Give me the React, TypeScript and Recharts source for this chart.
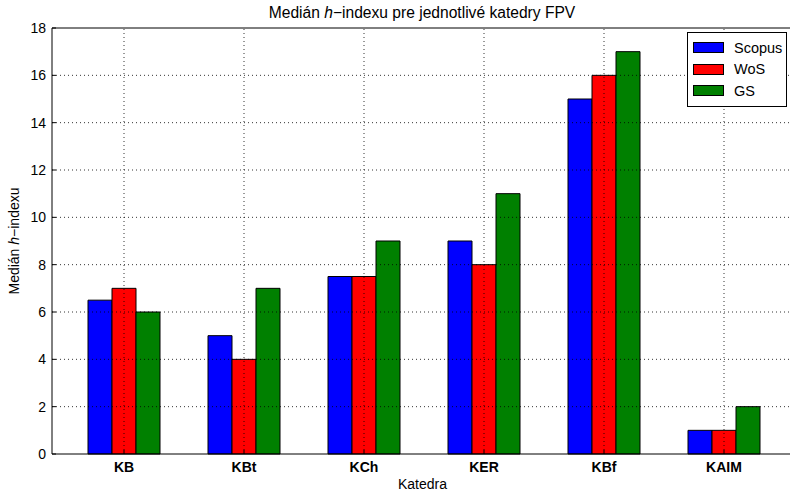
import { BarChart, Bar, XAxis, YAxis, ReferenceLine } from 'recharts';

// Median h-index per department
const categories = ['KB', 'KBt', 'KCh', 'KER', 'KBf', 'KAIM'];
const scopus = [6.5, 5, 7.5, 9, 15, 1];
const wos = [7, 4, 7.5, 8, 16, 1];
const gs = [6, 7, 9, 11, 17, 2];
const yTicks = [0, 2, 4, 6, 8, 10, 12, 14, 16, 18];

const series = [
  { key: 'scopus', name: 'Scopus', color: '#0000ff' },
  { key: 'wos', name: 'WoS', color: '#ff0000' },
  { key: 'gs', name: 'GS', color: '#008000' },
];

const data = categories.map((name, i) => ({
  name,
  scopus: scopus[i],
  wos: wos[i],
  gs: gs[i],
}));

const FONT = '"Liberation Sans", Arial, sans-serif';

const YLabel = (props: any) => {
  const vb = props.viewBox || { x: 0, y: 0, width: 0, height: 0 };
  const cx = 14;
  const cy = vb.y + vb.height / 2;
  return (
    <text
      x={cx}
      y={cy}
      transform={`rotate(-90 ${cx} ${cy})`}
      textAnchor="middle"
      dominantBaseline="central"
      fontSize={14}
      fontFamily={FONT}
      fill="#000"
    >
      Medián <tspan fontStyle="italic">h</tspan>−indexu
    </text>
  );
};

const XLabel = (props: any) => {
  const vb = props.viewBox || { x: 0, y: 0, width: 0, height: 0 };
  return (
    <text
      x={vb.x + vb.width / 2}
      y={vb.y + 35}
      textAnchor="middle"
      fontSize={14}
      fontFamily={FONT}
      fill="#000"
    >
      Katedra
    </text>
  );
};

// Legend drawn as a plain overlay so it doesn't eat plot space
function LegendBox() {
  return (
    <div
      style={{
        position: 'absolute',
        left: 687,
        top: 32,
        width: 100,
        border: '1px solid #000',
        background: '#fff',
        padding: '4px 0 4px 5px',
        fontFamily: FONT,
        fontSize: 14.5,
        boxSizing: 'border-box',
        zIndex: 2,
      }}
    >
      {series.map((s) => (
        <div key={s.key} style={{ display: 'flex', alignItems: 'center', height: 21.5 }}>
          <span
            style={{
              display: 'inline-block',
              width: 29,
              height: 9,
              background: s.color,
              border: '1px solid #000',
              marginRight: 10,
            }}
          />
          <span>{s.name}</span>
        </div>
      ))}
    </div>
  );
}

export default function App() {
  return (
    <div
      style={{
        position: 'absolute',
        left: 0,
        top: 0,
        width: 790,
        height: 494,
        overflow: 'hidden',
        background: '#fff',
      }}
    >
      <div
        style={{
          position: 'absolute',
          top: 4,
          left: 222,
          width: 400,
          textAlign: 'center',
          fontFamily: FONT,
          fontSize: 15.6,
          zIndex: 2,
        }}
      >
        Medián <i>h</i>−indexu pre jednotlivé katedry FPV
      </div>
      <LegendBox />
      <BarChart
        width={800}
        height={494}
        data={data}
        margin={{ top: 28, right: 7, bottom: 0, left: 0 }}
        barGap={0}
        barSize={24}
        style={{ fontFamily: FONT }}
      >
        <XAxis
          dataKey="name"
          height={40}
          padding={{ left: 12, right: 9 }}
          stroke="#000"
          tickSize={-4}
          tickMargin={12}
          tick={{ fill: '#000', fontSize: 14, fontWeight: 'bold' }}
          label={<XLabel />}
        />
        <YAxis
          width={52}
          domain={[0, 18]}
          ticks={yTicks}
          interval={0}
          stroke="#000"
          tickSize={-4}
          tickMargin={10}
          tick={{ fill: '#000', fontSize: 14 }}
          label={<YLabel />}
        />
        {series.map((s) => (
          <Bar
            key={s.key}
            dataKey={s.key}
            name={s.name}
            fill={s.color}
            stroke="#000"
            strokeWidth={1}
            isAnimationActive={false}
          />
        ))}
        {yTicks.slice(1, -1).map((t) => (
          <ReferenceLine key={`gy${t}`} y={t} stroke="#000" strokeDasharray="1 3" strokeWidth={0.8} />
        ))}
        {categories.map((c) => (
          <ReferenceLine key={`gx${c}`} x={c} stroke="#000" strokeDasharray="1 3" strokeWidth={0.8} />
        ))}
        <ReferenceLine y={18} stroke="#000" strokeWidth={1} />
      </BarChart>
    </div>
  );
}
